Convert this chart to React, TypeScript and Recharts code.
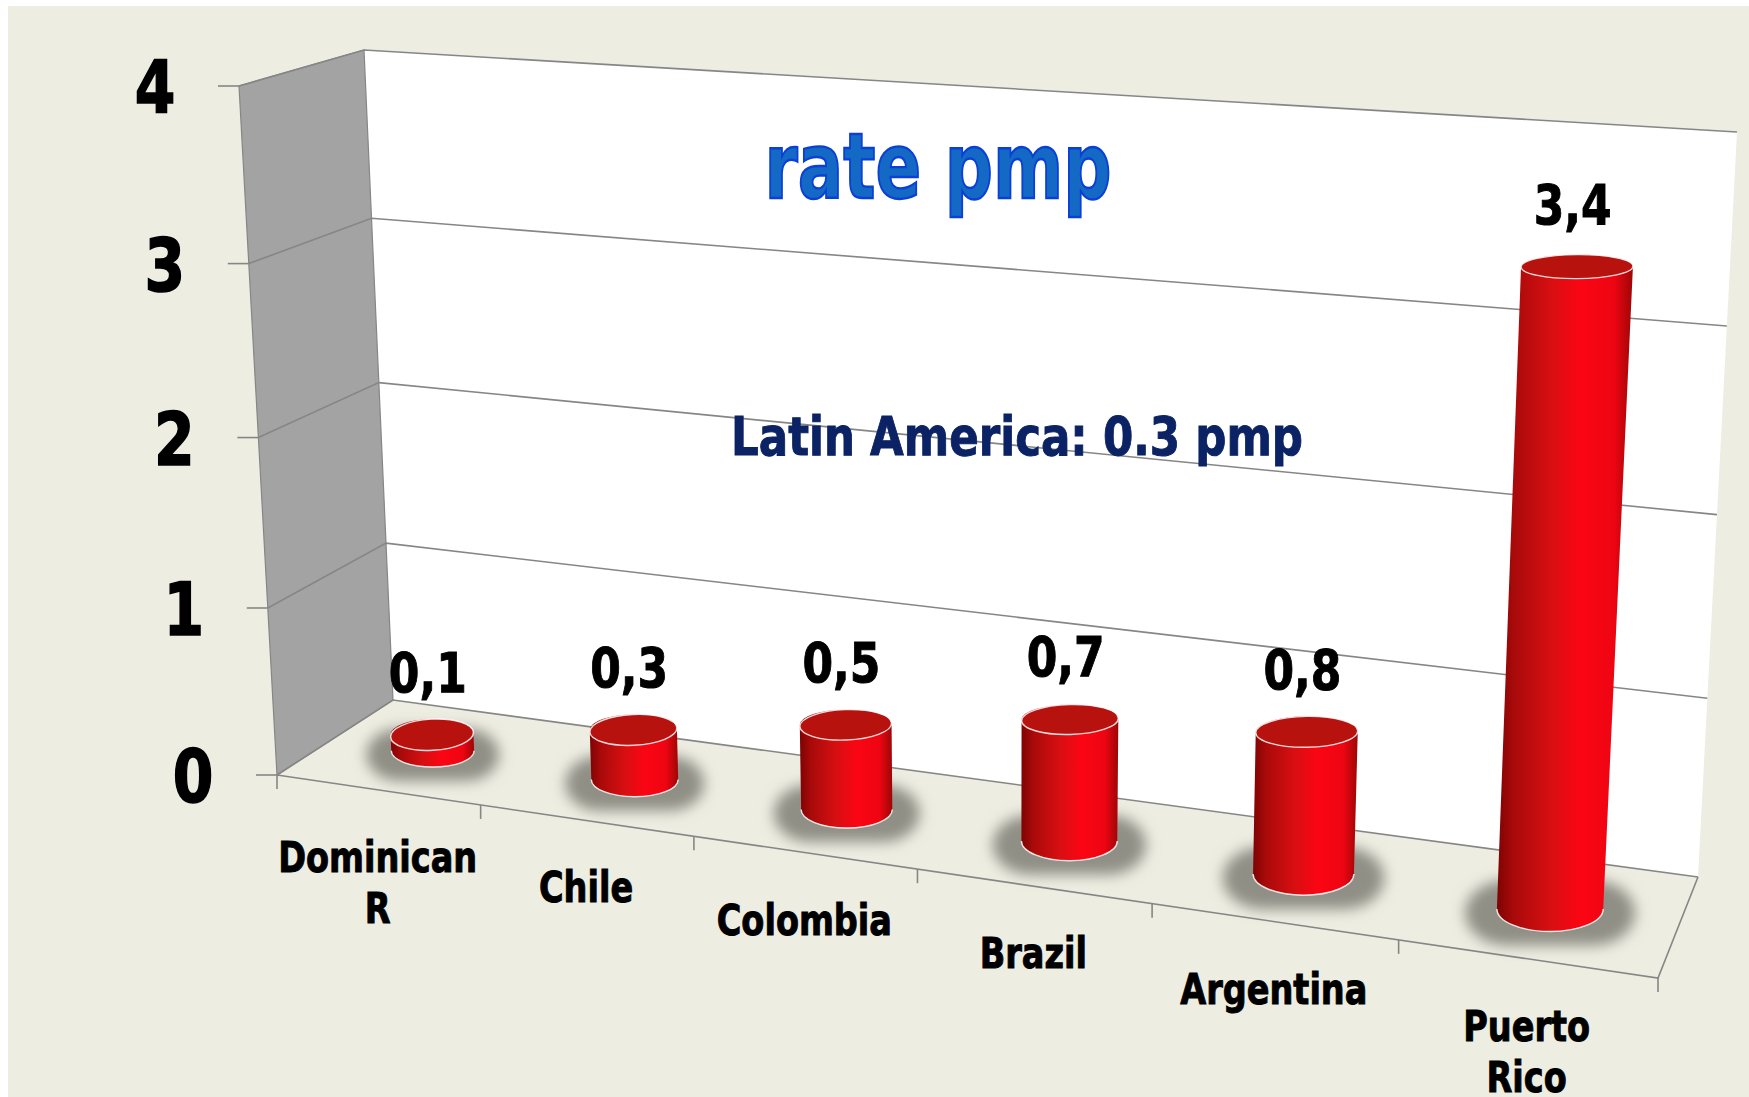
import React from "react";
import { BarChart, Bar, XAxis, YAxis, CartesianGrid, Customized, LabelList } from "recharts";

const categories = [["Dominican", "R"], ["Chile"], ["Colombia"], ["Brazil"], ["Argentina"], ["Puerto", "Rico"]];
const rates = [0.1, 0.3, 0.5, 0.7, 0.8, 3.4];
const yTicks = [0, 1, 2, 3, 4];
const chartTitle = "rate pmp";
const chartNote = "Latin America: 0.3 pmp";

const rows = categories.map((lines, i) => ({ name: lines.join(" "), rate: rates[i] }));

const W = 1749, H = 1097;
const PL = 100, PT = 100, PW = 1400, PH = 800;
const FONT = "'DejaVu Sans',sans-serif";

type P = [number, number];
function quad(p0: P, p1: P, p2: P, p3: P) {
  const [x0, y0] = p0, [x1, y1] = p1, [x2, y2] = p2, [x3, y3] = p3;
  const dx1 = x1 - x2, dx2 = x3 - x2, sx = x0 - x1 + x2 - x3;
  const dy1 = y1 - y2, dy2 = y3 - y2, sy = y0 - y1 + y2 - y3;
  const den = dx1 * dy2 - dx2 * dy1;
  const g = (sx * dy2 - dx2 * sy) / den, h = (dx1 * sy - sx * dy1) / den;
  const a = x1 - x0 + g * x1, b = x3 - x0 + h * x3, d = y1 - y0 + g * y1, e = y3 - y0 + h * y3;
  return (u: number, v: number): P => {
    const w = g * u + h * v + 1;
    return [(a * u + b * v + x0) / w, (d * u + e * v + y0) / w];
  };
}

// corners of the drawn box
const FBL: P = [277, 775], FBR: P = [1658, 978], FTL: P = [239, 86], FTR: P = [1681, 186];
const BBL: P = [393, 700], BBR: P = [1698, 877], BTL: P = [364, 50], BTR: P = [1737, 132];
const front = quad(FBL, FBR, FTR, FTL);
const back = quad(BBL, BBR, BTR, BTL);
const mid = quad([335, 737], [1678, 927], [1718, 155], [301, 68]);

const U = (px: number) => (px - PL) / PW;
const V = (py: number) => (PT + PH - py) / PH;
const pts = (a: P[]) => a.map((p) => p.join(",")).join(" ");
const LINE = "#868686";

function Walls() {
  return (
    <svg width={W} height={H} style={{ position: "absolute", left: 0, top: 0 }}>
      <rect x={8} y={6} width={W} height={H} fill="#eeede2" />
      <polygon points={pts([BBL, BBR, BTR, BTL])} fill="#fff" />
      <polygon points={pts([FBL, BBL, BTL, FTL])} fill="#a3a3a3" stroke={LINE} strokeWidth={1.2} />
    </svg>
  );
}

// Narrowed bold text, close to the heavy humanist face of the original.
function Narrow({ x, y, size, sx = 0.8, children }: any) {
  return (
    <g transform={`translate(${x} ${y}) scale(${sx} 1)`}>
      <text x={0} y={0} textAnchor="middle" fontFamily={FONT} fontWeight={700} fontSize={size}
        fill="#000" stroke="#000" strokeWidth={size > 60 ? 1.6 : 1}>
        {children}
      </text>
    </g>
  );
}

function Texts() {
  return (
    <g fontFamily={FONT} fontWeight={700}>
      <text x={938} y={198} textAnchor="middle" fontSize={90} textLength={347} lengthAdjust="spacingAndGlyphs"
        fill="#1469c4" stroke="#0a3fd8" strokeWidth={2.4}>{chartTitle}</text>
      <text x={1017} y={455} textAnchor="middle" fontSize={54} textLength={572} lengthAdjust="spacingAndGlyphs"
        fill="#0b2364" stroke="#0b2364" strokeWidth={1}>{chartNote}</text>
    </g>
  );
}

function GridLine(props: any) {
  const v = V(props.y1);
  const f = front(0, v), b = back(0, v), r = back(1, v);
  return (
    <g key={props.key}>
      <polyline points={pts([f, b, r])} fill="none" stroke={LINE} strokeWidth={1.6} />
      {v < 0.001 && <polyline points={pts([FBL, FBR, BBR])} fill="none" stroke={LINE} strokeWidth={1.6} />}
    </g>
  );
}

function YTick(props: any) {
  const value = Number(props.payload.value);
  const f = front(0, V(props.y));
  return (
    <g>
      <line x1={f[0] - 21} y1={f[1]} x2={f[0]} y2={f[1]} stroke={LINE} strokeWidth={1.6} />
      <Narrow x={f[0] - 84} y={f[1] + 27} size={73}>{value}</Narrow>
    </g>
  );
}

function XTick(props: any) {
  const i = props.index;
  const band = PW / categories.length;
  const c = front(U(props.x), 0);
  const e = front(U(props.x + band / 2), 0);
  const s = front(U(props.x - band / 2), 0);
  return (
    <g>
      {i === 0 && <line x1={s[0]} y1={s[1]} x2={s[0]} y2={s[1] + 14} stroke={LINE} strokeWidth={1.6} />}
      <line x1={e[0]} y1={e[1]} x2={e[0]} y2={e[1] + 14} stroke={LINE} strokeWidth={1.6} />
      {categories[i].map((t, k) => (
        <Narrow key={k} x={c[0]} y={c[1] + 82 + k * 51} size={43} sx={0.78}>{t}</Narrow>
      ))}
    </g>
  );
}

const ellRy = (y: number) => (y < 720 ? 12 + 0.0066 * (y - 266) : 15 + 0.04 * (y - 720));

function Cylinder(props: any) {
  const { x, y, width, index } = props;
  const bl = mid(U(x), 0), br = mid(U(x + width), 0);
  const tl = mid(U(x), V(y)), tr = mid(U(x + width), V(y));
  const bcy = (bl[1] + br[1]) / 2, tcy = (tl[1] + tr[1]) / 2;
  const bcx = (bl[0] + br[0]) / 2, tcx = (tl[0] + tr[0]) / 2;
  const brx = (br[0] - bl[0]) / 2, trx = (tr[0] - tl[0]) / 2;
  const bry = ellRy(bcy), tRy = ellRy(tcy);
  const id = `cyl${index}`;
  const tilt = -3.5 * (1 - U(x));
  return (
    <g>
      <defs>
        <linearGradient id={id} x1="0" y1="0" x2="1" y2="0">
          <stop offset="0" stopColor="#7e0303" />
          <stop offset="0.12" stopColor="#a80a0a" />
          <stop offset="0.4" stopColor="#d80f12" />
          <stop offset="0.62" stopColor="#fb0513" />
          <stop offset="0.86" stopColor="#ee0512" />
          <stop offset="1" stopColor="#9c0606" />
        </linearGradient>
        <filter id={id + "b"} x="-30%" y="-60%" width="160%" height="220%">
          <feGaussianBlur stdDeviation="7" />
        </filter>
      </defs>
      <rect x={bcx - brx * 1.6} y={bcy - bry - 6} width={brx * 3.2} height={bry * 2 + 20} rx={brx * 0.8} ry={bry + 10}
        fill="#8f8f86" filter={`url(#${id}b)`} />
      <path
        d={`M${tl[0]} ${tcy} L${bl[0]} ${bcy} A${brx} ${bry} 0 0 0 ${br[0]} ${bcy} L${tr[0]} ${tcy} A${trx} ${tRy} 0 0 0 ${tl[0]} ${tcy} Z`}
        fill={`url(#${id})`}
      />
      <path d={`M${bl[0]} ${bcy} A${brx} ${bry} 0 0 0 ${br[0]} ${bcy}`} fill="none" stroke="#fff" strokeOpacity={0.85} strokeWidth={1.4} />
      <ellipse cx={tcx} cy={tcy} rx={trx} ry={tRy} fill="#b8120e" stroke="#fff" strokeOpacity={0.85} strokeWidth={1.4}
        transform={`rotate(${tilt} ${tcx} ${tcy})`} />
    </g>
  );
}

function RateLabel(props: any) {
  const { x, y, width, value } = props;
  const p = mid(U(x + width / 2), V(y));
  return (
    <Narrow x={p[0] - 4} y={p[1] - 43} size={55}>
      {String(value).replace(".", ",")}
    </Narrow>
  );
}

export default function App() {
  return (
    <div style={{ position: "absolute", left: 0, top: 0, width: W, height: H, background: "#fff", overflow: "hidden" }}>
      <Walls />
      <div style={{ position: "absolute", left: 0, top: 0 }}>
        <BarChart width={W} height={H} data={rows} barCategoryGap="29%"
          margin={{ left: PL - 1, top: PT, right: W - PL - PW, bottom: H - PT - PH - 1 }}>
          <CartesianGrid vertical={false} horizontal={GridLine} syncWithTicks />
          <YAxis width={1} domain={[0, 4]} ticks={yTicks} axisLine={false} tickLine={false} interval={0} tick={YTick} />
          <XAxis dataKey="name" height={1} axisLine={false} tickLine={false} interval={0} tick={XTick} />
          <Customized component={Texts} />
          <Bar dataKey="rate" isAnimationActive={false} shape={Cylinder}>
            <LabelList dataKey="rate" content={RateLabel} />
          </Bar>
        </BarChart>
      </div>
    </div>
  );
}
